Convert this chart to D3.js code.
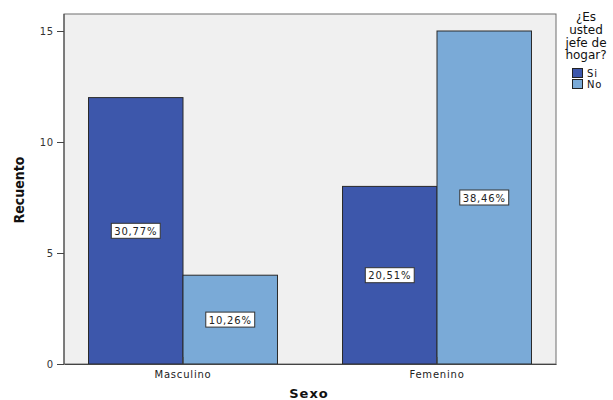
<!DOCTYPE html>
<html>
<head>
<meta charset="utf-8">
<script src="https://cdn.jsdelivr.net/npm/d3@7/dist/d3.min.js"></script>
<style>
  html, body { margin: 0; padding: 0; background: #fff; }
  svg { display: block; }
</style>
</head>
<body>
<svg id="chart" width="613" height="400"></svg>
<script>
// Counts by sex and head-of-household answer
const categories = ["Masculino", "Femenino"];
const seriesNames = ["Si", "No"];
const siValues = [12, 8];
const noValues = [4, 15];
const siLabels = ["30,77%", "20,51%"];
const noLabels = ["10,26%", "38,46%"];
const yTicks = [0, 5, 10, 15];
const legendTitle = ["¿Es", "usted", "jefe de", "hogar?"];

const colors = { Si: "#3d57ab", No: "#7aaad7" };

const svg = d3.select("#chart");
const plotLeft = 64, plotRight = 556, plotTop = 14, plotBottom = 364;

const x = d3.scaleBand().domain(categories).range([plotLeft, plotRight])
  .paddingInner(0.256).paddingOuter(0.0965);
const xs = d3.scaleBand().domain(seriesNames).range([0, x.bandwidth()]);
const y = d3.scaleLinear().domain([0, 15]).range([plotBottom, 31]);

// plot background
svg.append("rect").attr("x", plotLeft).attr("y", plotTop)
  .attr("width", plotRight - plotLeft).attr("height", plotBottom - plotTop)
  .attr("fill", "#f0f0f0").attr("stroke", "#6e6e6e").attr("stroke-width", 1);

const rows = categories.map((c, i) => ({
  cat: c,
  items: [
    { s: "Si", v: siValues[i], label: siLabels[i] },
    { s: "No", v: noValues[i], label: noLabels[i] }
  ]
}));

const g = svg.append("g");
rows.forEach(r => {
  r.items.forEach(d => {
    const bx = x(r.cat) + xs(d.s);
    g.append("rect")
      .attr("x", bx).attr("y", y(d.v))
      .attr("width", xs.bandwidth()).attr("height", y(0) - y(d.v))
      .attr("fill", colors[d.s]).attr("stroke", "#2a2a2a").attr("stroke-width", 1);
  });
});

// value labels in boxes at mid-height
rows.forEach(r => {
  r.items.forEach(d => {
    const cx = x(r.cat) + xs(d.s) + xs.bandwidth() / 2;
    const cy = y(d.v / 2);
    const lg = g.append("g");
    const t = lg.append("text")
      .attr("x", cx).attr("y", cy + 4)
      .attr("text-anchor", "middle")
      .attr("font-family", "DejaVu Sans")
      .attr("font-size", 10)
      .attr("letter-spacing", "0.8px")
      .attr("fill", "#222")
      .text(d.label);
    const bb = t.node().getBBox();
    lg.insert("rect", "text")
      .attr("x", bb.x - 3).attr("y", cy - 7.5)
      .attr("width", bb.width + 6).attr("height", 15)
      .attr("fill", "#fff").attr("stroke", "#333").attr("stroke-width", 1);
  });
});

// y axis
const yAxis = d3.axisLeft(y).tickValues(yTicks).tickSize(7).tickSizeOuter(0).tickPadding(3);
const ya = svg.append("g").attr("transform", `translate(${plotLeft},0)`).call(yAxis);
ya.select(".domain").remove();
svg.append("line").attr("x1", plotLeft).attr("x2", plotLeft)
  .attr("y1", plotTop).attr("y2", plotBottom).attr("stroke", "#444");
ya.selectAll(".tick line").attr("stroke", "#444");
ya.selectAll(".tick text").attr("font-family", "DejaVu Sans").attr("font-size", 10)
  .attr("fill", "#333").attr("letter-spacing", "0.8px");

// x axis
const xAxis = d3.axisBottom(x).tickSize(7).tickSizeOuter(0).tickPadding(5);
const xa = svg.append("g").attr("transform", `translate(0,${plotBottom})`).call(xAxis);
xa.select(".domain").attr("stroke", "#444");
xa.selectAll(".tick line").attr("stroke", "#444").attr("y1", -7).attr("y2", 0);
xa.selectAll(".tick text").attr("font-family", "DejaVu Sans").attr("font-size", 10)
  .attr("fill", "#222").attr("letter-spacing", "0.8px").attr("dy", "0.2em");

// axis titles
svg.append("text")
  .attr("transform", "translate(24,190) rotate(-90)")
  .attr("text-anchor", "middle")
  .attr("font-family", "DejaVu Sans Condensed").attr("font-weight", "bold")
  .attr("font-size", 14).attr("fill", "#111")
  .text("Recuento");
svg.append("text")
  .attr("x", 309).attr("y", 398)
  .attr("text-anchor", "middle")
  .attr("font-family", "DejaVu Sans").attr("font-weight", "bold")
  .attr("font-size", 13).attr("letter-spacing", "1px").attr("fill", "#111")
  .text("Sexo");

// legend
const lgX = 586;
legendTitle.forEach((line, i) => {
  svg.append("text")
    .attr("x", lgX).attr("y", 21 + i * 12.8)
    .attr("text-anchor", "middle")
    .attr("font-family", "DejaVu Sans").attr("font-size", 12)
    .attr("fill", "#111")
    .text(line);
});
seriesNames.forEach((s, i) => {
  const yy = 68 + i * 11;
  svg.append("rect").attr("x", 572.5).attr("y", yy + 0.5)
    .attr("width", 10).attr("height", 9)
    .attr("fill", colors[s]).attr("stroke", "#222").attr("stroke-width", 1);
  svg.append("text").attr("x", 587).attr("y", yy + 9)
    .attr("font-family", "DejaVu Sans").attr("font-size", 10)
    .attr("letter-spacing", "0.8px").attr("fill", "#111")
    .text(s);
});
</script>
</body>
</html>
